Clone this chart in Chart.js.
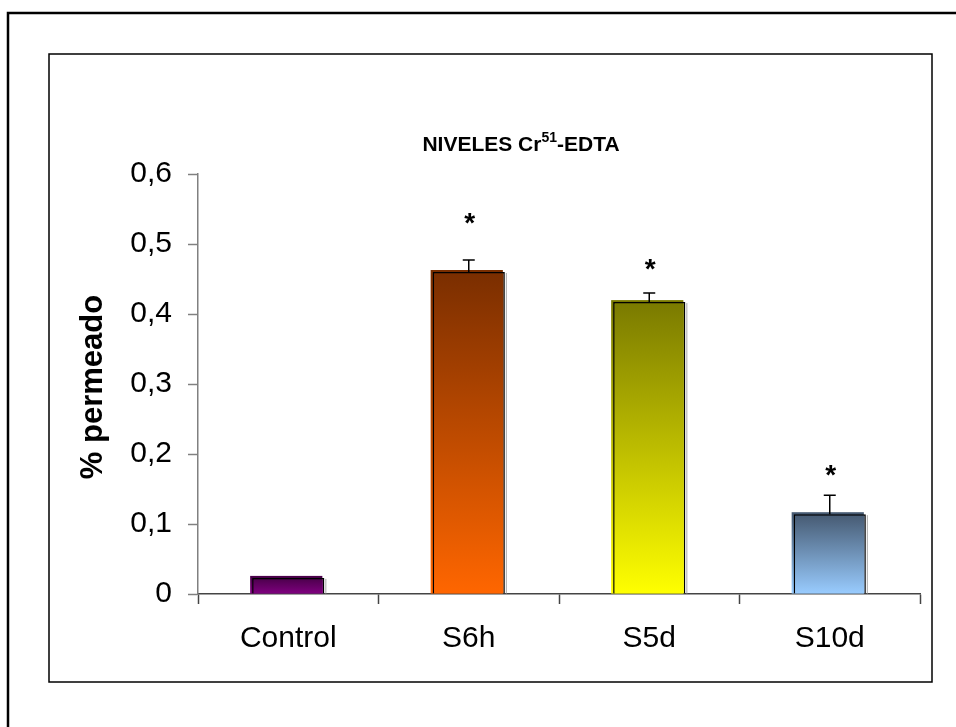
<!DOCTYPE html>
<html>
<head>
<meta charset="utf-8">
<script src="https://cdn.jsdelivr.net/npm/chart.js@4.4.0/dist/chart.umd.min.js"></script>
<style>
  html, body { margin: 0; padding: 0; background: #fff; }
  #wrap { width: 956px; height: 727px; position: relative; }
</style>
</head>
<body>
<div id="wrap"><canvas id="chart" width="956" height="727"></canvas></div>
<script>
// data
const categories = ["Control", "S6h", "S5d", "S10d"];
const values = [0.023, 0.46, 0.417, 0.114];
const errors = [0, 0.017, 0.013, 0.027];
const starLevels = [null, 0.54, 0.475, 0.18];   // where the "*" marks sit
const yTicks = [0, 0.1, 0.2, 0.3, 0.4, 0.5, 0.6];
const topColors = ["#4a004a", "#7a2e00", "#7a7a00", "#465a72"];
const bottomColors = ["#800080", "#ff6600", "#ffff00", "#99ccff"];

const FONT = "'Liberation Sans', Arial, sans-serif";

function barGradient(chart, i){
    const {chartArea, scales} = chart;
    if(!chartArea || !scales.y) return bottomColors[i];
    const yTop = scales.y.getPixelForValue(values[i]);
    const yBase = scales.y.getPixelForValue(0);
    const g = chart.ctx.createLinearGradient(0, yTop, 0, yBase);
    g.addColorStop(0, topColors[i]);
    g.addColorStop(1, bottomColors[i]);
    return g;
}

// frames around the picture
const framePlugin = {
    id: "frames",
    beforeDraw(chart){
        const c = chart.ctx;
        c.save();
        c.fillStyle = "#fff";
        c.fillRect(0, 0, chart.width, chart.height);
        c.strokeStyle = "#000";
        c.lineWidth = 2.5;
        c.strokeRect(8, 13, 1100, 1000);
        c.lineWidth = 1.5;
        c.strokeRect(49, 54, 883, 628);
        c.restore();
    }
};

// offset shadow behind each bar
const shadowPlugin = {
    id: "barShadow",
    beforeDatasetsDraw(chart){
        const c = chart.ctx;
        const meta = chart.getDatasetMeta(0);
        c.save();
        meta.data.forEach((bar, i) => {
            const w = bar.width;
            c.fillStyle = barGradient(chart, i);
            c.fillRect(bar.x - w/2 - 2, bar.y - 2, w, bar.base - bar.y + 2);
            c.strokeStyle = "#aaa";
            c.lineWidth = 1;
            c.beginPath();
            c.moveTo(bar.x + w/2 + 1.5, bar.y + 1);
            c.lineTo(bar.x + w/2 + 1.5, bar.base);
            c.stroke();
        });
        c.restore();
    }
};

// error bars, asterisks and texts
const extrasPlugin = {
    id: "extras",
    afterDatasetsDraw(chart){
        const c = chart.ctx;
        const y = chart.scales.y;
        const meta = chart.getDatasetMeta(0);
        c.save();
        c.strokeStyle = "#000";
        c.lineWidth = 1.5;
        meta.data.forEach((bar, i) => {
            if(errors[i] > 0){
                const yTop = y.getPixelForValue(values[i] + errors[i]);
                c.beginPath();
                c.moveTo(bar.x, bar.y);
                c.lineTo(bar.x, yTop);
                c.moveTo(bar.x - 6, yTop);
                c.lineTo(bar.x + 6, yTop);
                c.stroke();
            }
            if(starLevels[i] !== null){
                c.fillStyle = "#000";
                c.font = "bold 28px " + FONT;
                c.textAlign = "center";
                c.textBaseline = "alphabetic";
                c.fillText("*", bar.x + 1, y.getPixelForValue(starLevels[i]) + 16);
            }
        });

        // title with superscript
        c.fillStyle = "#000";
        c.textBaseline = "alphabetic";
        c.textAlign = "left";
        const p1 = "NIVELES Cr", sup = "51", p2 = "-EDTA";
        c.font = "bold 21px " + FONT;
        const w1 = c.measureText(p1).width, w3 = c.measureText(p2).width;
        c.font = "bold 14px " + FONT;
        const w2 = c.measureText(sup).width;
        let x = 521 - (w1 + w2 + w3)/2;
        const base = 151;
        c.font = "bold 21px " + FONT;
        c.fillText(p1, x, base); x += w1;
        c.font = "bold 14px " + FONT;
        c.fillText(sup, x, base - 9); x += w2;
        c.font = "bold 21px " + FONT;
        c.fillText(p2, x, base);

        // y axis title
        c.translate(93, 387);
        c.rotate(-Math.PI/2);
        c.textAlign = "center";
        c.textBaseline = "middle";
        c.font = "bold 31px " + FONT;
        c.fillText("% permeado", 0, 0);
        c.restore();
    }
};

new Chart(document.getElementById("chart"), {
    type: "bar",
    data: {
        labels: categories,
        datasets: [{
            data: values,
            backgroundColor: ctx => ctx.dataIndex === undefined ? "#888" : barGradient(ctx.chart, ctx.dataIndex),
            borderColor: "#000",
            borderWidth: 1.5,
            borderSkipped: "bottom",
            barPercentage: 0.4,
            categoryPercentage: 1
        }]
    },
    options: {
        responsive: false,
        animation: false,
        devicePixelRatio: 1,
        layout: { padding: { top: 174, right: 36, left: 0, bottom: 0 } },
        plugins: { legend: { display: false }, tooltip: { enabled: false }, title: { display: false } },
        scales: {
            x: {
                afterFit: s => { s.height = 133; },
                grid: { offset: true, drawOnChartArea: false, drawTicks: true, tickLength: 10, tickColor: "#444", tickWidth: 1.5 },
                border: { display: true, color: "#444", width: 1.5 },
                ticks: { color: "#000", font: { family: FONT, size: 30 }, padding: 17, maxRotation: 0, autoSkip: false }
            },
            y: {
                min: 0, max: 0.6,
                afterFit: s => { s.width = 198; },
                afterBuildTicks: s => { s.ticks = yTicks.map(v => ({ value: v })); },
                grid: { drawOnChartArea: false, drawTicks: true, tickLength: 10, tickColor: "#808080", tickWidth: 1.5 },
                border: { display: true, color: "#808080", width: 1.5 },
                ticks: {
                    color: "#000",
                    font: { family: FONT, size: 30 },
                    padding: 16,
                    callback: v => v === 0 ? "0" : v.toFixed(1).replace(".", ",")
                }
            }
        }
    },
    plugins: [framePlugin, shadowPlugin, extrasPlugin]
});
</script>
</body>
</html>
